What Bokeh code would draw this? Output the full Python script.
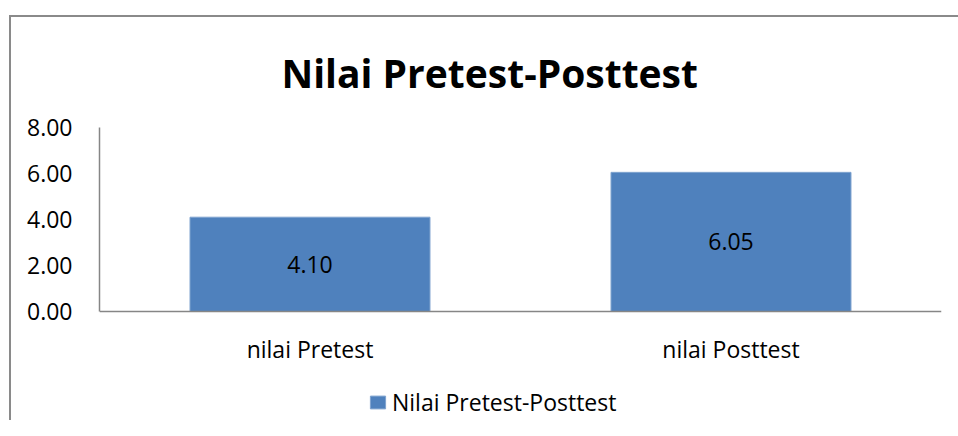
from bokeh.plotting import figure
from bokeh.models import (ColumnDataSource, Legend, LegendItem, Range1d,
                          LabelSet, NumeralTickFormatter, FixedTicker)
from bokeh.core.properties import value
from bokeh.embed import file_html
from bokeh.resources import INLINE

categories = ["nilai Pretest", "nilai Posttest"]
values = [4.10, 6.05]
value_labels = ["4.10", "6.05"]
series_name = "Nilai Pretest-Posttest"
title_text = "Nilai Pretest-Posttest"
y_ticks = [0, 2, 4, 6, 8]

FONT = "Open Sans"
BAR = "#4F81BD"
AXIS = "#868686"

# layout: value axis 0..8 occupies 184 px; the frame extends below it to hold the legend
Y_MAX = 8
AXIS_PX = 184
FRAME_H = 293
y_start = -Y_MAX * (FRAME_H - AXIS_PX) / AXIS_PX

src = ColumnDataSource(dict(cat=categories, val=values,
                            mid=[v / 2 for v in values], lab=value_labels))

p = figure(x_range=categories, y_range=Range1d(y_start, Y_MAX),
           width=958, frame_width=842, frame_height=FRAME_H,
           output_backend="svg", toolbar_location=None,
           min_border_left=99, min_border_right=17,
           min_border_top=127, min_border_bottom=0)
p.border_fill_color = None
p.background_fill_color = None
p.styles = {"box-shadow": "inset 9px 15px 0 0 #ffffff, inset 11px 17px 0 0 #8a8a8a"}

p.title.text = title_text
p.title.text_font = FONT
p.title.text_font_size = "39px"
p.title.text_font_style = "bold"
p.title.text_color = "black"
p.title.align = "left"
p.title.offset = 182
p.title.standoff = 57

r = p.vbar(x="cat", top="val", width=0.57, source=src,
           fill_color=BAR, line_color="#7FA3CF", line_width=1)

lbl = LabelSet(x="cat", y="mid", text="lab", source=src,
               text_align="center", text_baseline="middle",
               text_font=value(FONT), text_font_size="23px", text_color="black")
p.add_layout(lbl)

p.xgrid.visible = False
p.ygrid.visible = False
p.outline_line_color = None

p.yaxis.ticker = FixedTicker(ticks=y_ticks)
p.yaxis.formatter = NumeralTickFormatter(format="0.00")
p.yaxis.bounds = (0, Y_MAX)
p.xaxis.fixed_location = 0
for ax in (p.xaxis[0], p.yaxis[0]):
    ax.axis_line_color = AXIS
    ax.axis_line_width = 1.5
    ax.major_tick_line_color = None
    ax.minor_tick_line_color = None
    ax.major_tick_out = 0
    ax.major_tick_in = 0
    ax.major_label_text_font = FONT
    ax.major_label_text_font_size = "23px"
    ax.major_label_text_color = "black"
p.yaxis.major_label_standoff = 27
p.xaxis.major_label_standoff = 21

legend = Legend(items=[LegendItem(label=series_name, renderers=[r])],
                location=(269, 2), orientation="horizontal",
                glyph_width=19, glyph_height=16, label_standoff=5,
                label_text_font=FONT, label_text_font_size="23px",
                label_text_color="black",
                border_line_color=None, background_fill_alpha=0,
                padding=0, margin=0)
p.add_layout(legend)

open("out.html", "w").write(file_html(p, INLINE))
